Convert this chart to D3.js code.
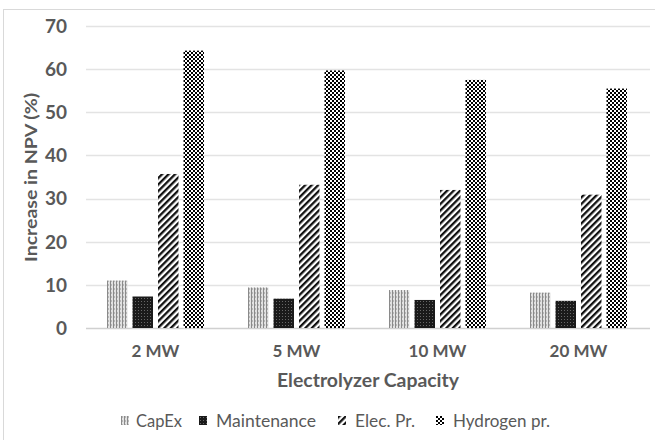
<!DOCTYPE html>
<html>
<head>
<meta charset="utf-8">
<script src="https://cdn.jsdelivr.net/npm/d3@7"></script>
<style>
  html, body { margin: 0; padding: 0; background: #fff; }
  svg { display: block; }
  text { font-family: Lato, "Open Sans", sans-serif; fill: #595959; }
</style>
</head>
<body>
<svg id="chart" width="655" height="440"></svg>
<script>
// Electrolyzer capacities and the NPV increase (%) for each sensitivity parameter
const categories = ["2 MW", "5 MW", "10 MW", "20 MW"];
const seriesNames = ["CapEx", "Maintenance", "Elec. Pr.", "Hydrogen pr."];
const capex       = [11.0, 9.4, 8.8, 8.2];
const maintenance = [7.3, 6.8, 6.5, 6.3];
const elecPrice   = [35.7, 33.2, 32.0, 30.9];
const hydrogenPr  = [64.3, 59.7, 57.5, 55.5];
const yTicks = [0, 10, 20, 30, 40, 50, 60, 70];

const seriesValues = [capex, maintenance, elecPrice, hydrogenPr];
const patternIds = ["pat-capex", "pat-maint", "pat-elec", "pat-h2"];

const svg = d3.select("#chart");
const width = 655, height = 440;
const margin = { left: 86, right: 5, top: 26, bottom: 112 };

// outer chart frame
svg.append("rect")
  .attr("x", 3.5).attr("y", 9.5)
  .attr("width", 700).attr("height", 500)
  .attr("fill", "none").attr("stroke", "#d9d9d9");

// fill patterns for the four series
const defs = svg.append("defs");

const pCap = defs.append("pattern").attr("id", "pat-capex")
  .attr("patternUnits", "userSpaceOnUse").attr("width", 3).attr("height", 4);
pCap.append("rect").attr("width", 3).attr("height", 4).attr("fill", "#e2e2e2");
pCap.append("rect").attr("x", 0).attr("width", 1).attr("height", 4).attr("fill", "#8a8a8a");
pCap.append("rect").attr("x", 1).attr("y", 0).attr("width", 1).attr("height", 2).attr("fill", "#b8b8b8");

const pMaint = defs.append("pattern").attr("id", "pat-maint")
  .attr("patternUnits", "userSpaceOnUse").attr("width", 3).attr("height", 3);
pMaint.append("rect").attr("width", 3).attr("height", 3).attr("fill", "#1a1a1a");
pMaint.append("rect").attr("x", 1).attr("y", 1).attr("width", 1).attr("height", 1).attr("fill", "#666");

// wide upward diagonal stripes
const pElec = defs.append("pattern").attr("id", "pat-elec")
  .attr("patternUnits", "userSpaceOnUse").attr("width", 4.6).attr("height", 4.6)
  .attr("patternTransform", "rotate(45)");
pElec.append("rect").attr("width", 4.6).attr("height", 4.6).attr("fill", "#fff");
pElec.append("rect").attr("width", 2.3).attr("height", 4.6).attr("fill", "#111");

// small checkerboard
const pH2 = defs.append("pattern").attr("id", "pat-h2")
  .attr("patternUnits", "userSpaceOnUse").attr("width", 4).attr("height", 4);
pH2.append("rect").attr("width", 4).attr("height", 4).attr("fill", "#fff");
pH2.append("rect").attr("x", 0).attr("y", 0).attr("width", 2).attr("height", 2).attr("fill", "#000");
pH2.append("rect").attr("x", 2).attr("y", 2).attr("width", 2).attr("height", 2).attr("fill", "#000");

const x = d3.scaleBand()
  .domain(categories)
  .range([margin.left, width - margin.right])
  .paddingInner(0).paddingOuter(0);

const y = d3.scaleLinear()
  .domain([0, 70])
  .range([height - margin.bottom, margin.top]);

// gridlines
svg.append("g")
  .selectAll("line")
  .data(yTicks)
  .join("line")
  .attr("x1", margin.left).attr("x2", width - margin.right)
  .attr("y1", d => Math.round(y(d)) + 0.5).attr("y2", d => Math.round(y(d)) + 0.5)
  .attr("stroke", d => d === 0 ? "#d0d0d0" : "#e3e3e3")
  .attr("stroke-width", 1.3);

// y tick labels
svg.append("g")
  .selectAll("text")
  .data(yTicks)
  .join("text")
  .attr("x", 67).attr("y", d => y(d))
  .attr("dy", "0.36em")
  .attr("text-anchor", "end")
  .attr("font-size", 19).attr("font-weight", 700)
  .text(d => d);

// bars
const barW = 20.5, gap = 5;
const groupW = seriesNames.length * barW + (seriesNames.length - 1) * gap;
const sub = d3.scaleBand().domain(d3.range(seriesNames.length))
  .range([0, groupW]).paddingInner(gap / (barW + gap));

const groups = svg.append("g")
  .selectAll("g")
  .data(categories)
  .join("g")
  .attr("transform", d => `translate(${x(d) + x.bandwidth() / 2 - groupW / 2 - 1},0)`);

groups.selectAll("rect")
  .data((d, ci) => seriesValues.map((vals, si) => ({ si, v: vals[ci] })))
  .join("rect")
  .attr("x", d => sub(d.si))
  .attr("width", sub.bandwidth())
  .attr("y", d => y(d.v))
  .attr("height", d => y(0) - y(d.v))
  .attr("fill", d => `url(#${patternIds[d.si]})`);

// x category labels
svg.append("g")
  .selectAll("text")
  .data(categories)
  .join("text")
  .attr("x", d => x(d) + x.bandwidth() / 2 - 1)
  .attr("y", 357)
  .attr("text-anchor", "middle")
  .attr("font-size", 17).attr("font-weight", 700)
  .text(d => d);

// axis titles
svg.append("text")
  .attr("x", 368).attr("y", 387)
  .attr("text-anchor", "middle")
  .attr("font-size", 18.5).attr("font-weight", 700)
  .attr("textLength", 182).attr("lengthAdjust", "spacingAndGlyphs")
  .text("Electrolyzer Capacity");

svg.append("text")
  .attr("transform", "translate(37,177.5) rotate(-90)")
  .attr("text-anchor", "middle")
  .attr("font-size", 17).attr("font-weight", 700)
  .attr("textLength", 169).attr("lengthAdjust", "spacingAndGlyphs")
  .text("Increase in NPV (%)");

// legend
const legendX = [121, 199, 338, 436];
const legendTextW = [46, 100, 60, 97];
const leg = svg.append("g")
  .selectAll("g")
  .data(seriesNames)
  .join("g")
  .attr("transform", (d, i) => `translate(${legendX[i]},416)`);
leg.append("rect")
  .attr("width", 8).attr("height", 9)
  .attr("fill", (d, i) => `url(#${patternIds[i]})`);
leg.append("text")
  .attr("x", (d, i) => i === 0 ? 15 : 17).attr("y", 4.5).attr("dy", "0.36em")
  .attr("font-size", 17)
  .attr("textLength", (d, i) => legendTextW[i]).attr("lengthAdjust", "spacingAndGlyphs")
  .text(d => d);
</script>
</body>
</html>
